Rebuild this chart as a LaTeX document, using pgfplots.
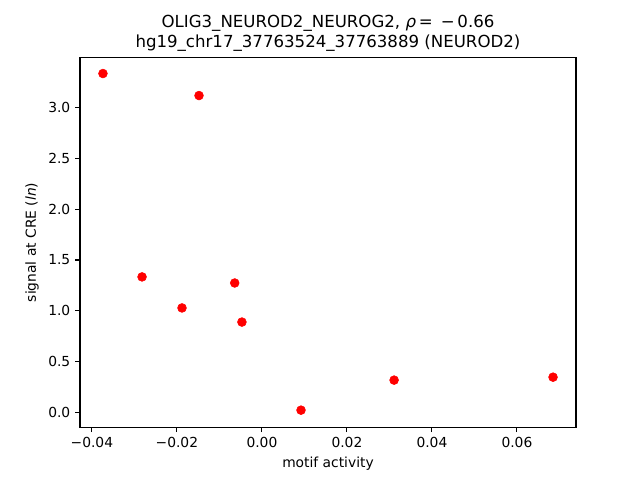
\documentclass[border=0pt]{standalone}
\usepackage{fontspec}
\setmainfont{DejaVu Sans}
\usepackage{pgfplots}
\pgfplotsset{compat=1.18}
\begin{document}
\begin{tikzpicture}
\path[use as bounding box] (0,0) rectangle (6.4in,4.8in);
\begin{axis}[
  at={(0.8in,0.528in)}, anchor=south west,
  scale only axis,
  width=4.96in, height=3.696in,
  xmin=-0.0428, xmax=0.0739,
  ymin=-0.148, ymax=3.494,
  axis line style={line width=0.8pt},
  tick style={line width=0.8pt, black},
  tick align=outside,
  major tick length=3.5pt,
  scaled x ticks=false, scaled y ticks=false,
  xtick={-0.04,-0.02,0,0.02,0.04,0.06},
  xticklabels={−0.04,−0.02,0.00,0.02,0.04,0.06},
  ytick={0,0.5,1,1.5,2,2.5,3},
  yticklabels={0.0,0.5,1.0,1.5,2.0,2.5,3.0},
  xtick pos=bottom, ytick pos=left,
  ticklabel style={font=\fontsize{10}{12}\selectfont},
  xlabel={motif activity},
  ylabel={signal at CRE ({\itshape ln})},
  label style={font=\fontsize{10}{12}\selectfont},
  title={OLIG3\_NEUROD2\_NEUROG2, {\itshape ρ}\,=\, −\,0.66\\hg19\_chr17\_37763524\_37763889 (NEUROD2)},
  title style={font=\fontsize{12}{14.4}\selectfont, align=center, yshift=-5pt},
]
\addplot[only marks, mark=*, mark size=3.2pt, color=red] coordinates {
  (-0.0374, 3.337)
  (-0.0148, 3.120)
  (-0.0282, 1.333)
  (-0.0188, 1.027)
  (-0.0064, 1.273)
  (-0.0047, 0.888)
  (0.0092, 0.020)
  (0.0311, 0.316)
  (0.0685, 0.345)
};
\end{axis}
\end{tikzpicture}
\end{document}
